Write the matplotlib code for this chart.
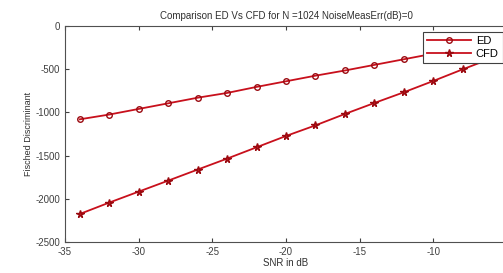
import matplotlib
matplotlib.use('Agg')
import matplotlib.pyplot as plt

plt.rcParams['font.family'] = ['Liberation Sans', 'DejaVu Sans']
plt.rcParams['axes.unicode_minus'] = False

snr = [-34, -32, -30, -28, -26, -24, -22, -20, -18, -16, -14, -12, -10, -8, -6]
ed = [-1080, -1025, -960, -895, -830, -775, -705, -640, -575, -515, -450, -385, -320, -260, -200]
cfd = [-2176, -2044, -1917, -1790, -1662, -1535, -1404, -1273, -1150, -1018, -891, -767, -636, -501, -370]

fig = plt.figure(figsize=(5.03, 2.73), dpi=100)
ax = fig.add_axes([65/503, 31/273, 442/503, 216/273])

red = '#c8101c'
ax.plot(snr, ed, '-o', color=red, mec='#9a0a10', mfc='none', ms=4, lw=1.3, label='ED')
ax.plot(snr, cfd, '-*', color=red, mec='#9a0a10', mfc=red, ms=5.5, lw=1.3, label='CFD')

ax.set_xlim(-35, -5)
ax.set_ylim(-2500, 0)
ax.set_xticks([-35, -30, -25, -20, -15, -10, -5])
ax.set_yticks([-2500, -2000, -1500, -1000, -500, 0])
ax.tick_params(direction='in', labelsize=7, colors='#404040', length=3, top=True, right=True)
for s in ax.spines.values():
    s.set_color('#505050')

ax.set_title('Comparison ED Vs CFD for N =1024 NoiseMeasErr(dB)=0', fontsize=7, color='#303030', pad=5)
ax.set_xlabel('SNR in dB', fontsize=7, color='#303030', labelpad=1)
ax.set_ylabel('Fisched Discriminant', fontsize=6.5, color='#303030', labelpad=2)

leg = ax.legend(loc='upper right', bbox_to_anchor=(0.99, 0.97), fontsize=8, frameon=True,
                fancybox=False, edgecolor='#404040', handlelength=4.0, borderpad=0.35,
                labelspacing=0.25, handletextpad=0.4, borderaxespad=0, framealpha=1)
leg.get_frame().set_linewidth(0.8)

fig.savefig('out.png', dpi=100)
